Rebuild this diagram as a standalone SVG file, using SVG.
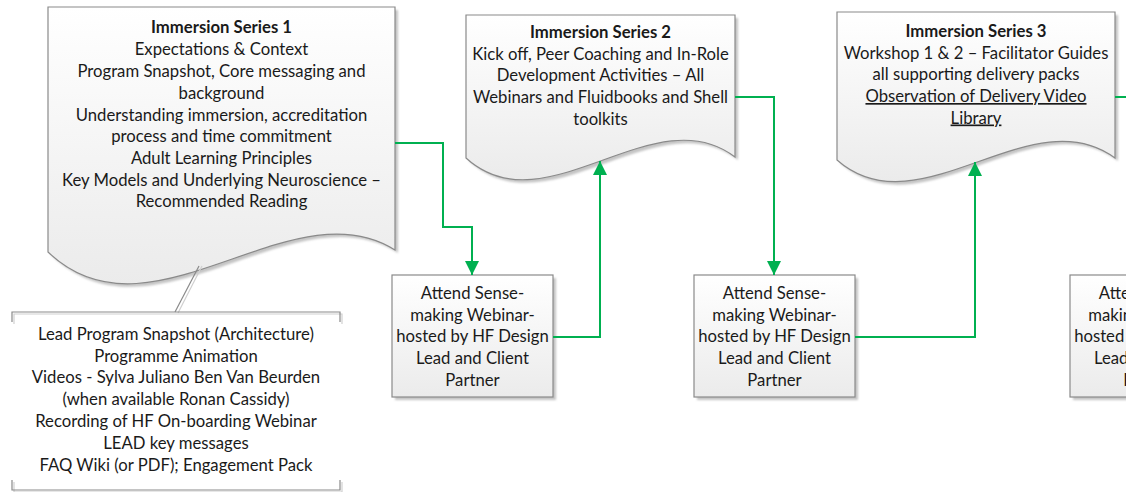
<svg xmlns="http://www.w3.org/2000/svg" width="1126" height="492" viewBox="0 0 1126 492">
  <defs>
    <linearGradient id="fillGrad" x1="0" y1="0" x2="0" y2="1">
      <stop offset="0" stop-color="#ffffff"/>
      <stop offset="1" stop-color="#ebebeb"/>
    </linearGradient>
    <filter id="soft" x="-10%" y="-10%" width="120%" height="120%">
      <feGaussianBlur stdDeviation="1.2"/>
    </filter>
    <marker id="arrow" viewBox="0 0 14 14" refX="14" refY="7" markerWidth="14" markerHeight="14" markerUnits="userSpaceOnUse" orient="auto">
      <path d="M0,0 L14,7 L0,14 Z" fill="#00b050"/>
    </marker>
    <style>
      .shape { fill: url(#fillGrad); stroke: #8a8a8a; stroke-width: 1.2; }
      .shadow { fill: #c4c4c4; stroke: none; filter: url(#soft); }
      .txt { font-family: Lato, "Open Sans", sans-serif; font-size: 16.7px; fill: #1a1a1a; text-anchor: middle; }
      .bold { font-weight: bold; }
      .ul { text-decoration: underline; }
      .conn { fill: none; stroke: #00b050; stroke-width: 2; }
      .callout { fill: none; stroke: #8a8a8a; stroke-width: 1.2; }
      .callout-sh { fill: none; stroke: #d0d0d0; stroke-width: 1.2; }
    </style>
  </defs>

  <!-- Immersion Series 1 document -->
  <g id="series1">
    <path class="shadow" transform="translate(3,3)" d="M48,7 H395 V250 C291,184 150,350 48,252 Z"/>
    <path class="shape" d="M48,7 H395 V250 C291,184 150,350 48,252 Z"/>
    <text class="txt bold" x="221.5" y="33">Immersion Series 1</text>
    <text class="txt" x="221.5" y="55">Expectations &amp; Context</text>
    <text class="txt" x="221.5" y="76.5">Program Snapshot, Core messaging and</text>
    <text class="txt" x="221.5" y="98.5">background</text>
    <text class="txt" x="221.5" y="120.5">Understanding immersion, accreditation</text>
    <text class="txt" x="221.5" y="142">process and time commitment</text>
    <text class="txt" x="221.5" y="163.5">Adult Learning Principles</text>
    <text class="txt" x="221.5" y="185.5">Key Models and Underlying Neuroscience –</text>
    <text class="txt" x="221.5" y="207">Recommended Reading</text>
  </g>

  <!-- Resource list callout attached to series 1 -->
  <g id="resources">
    <path class="callout-sh" d="M202,266 L178,313"/>
    <path class="callout" d="M199,266 L175,312"/>
    <path class="callout-sh" transform="translate(2,2)" d="M12,322 V312 H340 V322 M12,480 V490 H340 V480"/>
    <path class="callout" d="M12,322 V312 H340 V322 M12,480 V490 H340 V480"/>
    <text class="txt" x="176" y="339.5">Lead Program Snapshot (Architecture)</text>
    <text class="txt" x="176" y="361.5">Programme Animation</text>
    <text class="txt" x="176" y="383">Videos - Sylva Juliano Ben Van Beurden</text>
    <text class="txt" x="176" y="405">(when available Ronan Cassidy)</text>
    <text class="txt" x="176" y="427">Recording of HF On-boarding Webinar</text>
    <text class="txt" x="176" y="448.5">LEAD key messages</text>
    <text class="txt" x="176" y="470.5">FAQ Wiki (or PDF); Engagement Pack</text>
  </g>

  <!-- Immersion Series 2 document -->
  <g id="series2">
    <path class="shadow" transform="translate(3,3)" d="M466,15 H735 V157 C654,95 545,230 466,158 Z"/>
    <path class="shape" d="M466,15 H735 V157 C654,95 545,230 466,158 Z"/>
    <text class="txt bold" x="600.5" y="37.5">Immersion Series 2</text>
    <text class="txt" x="600.5" y="59.5">Kick off, Peer Coaching and In-Role</text>
    <text class="txt" x="600.5" y="81">Development Activities – All</text>
    <text class="txt" x="600.5" y="103">Webinars and Fluidbooks and Shell</text>
    <text class="txt" x="600.5" y="124.5">toolkits</text>
  </g>

  <!-- Immersion Series 3 document -->
  <g id="series3">
    <path class="shadow" transform="translate(3,3)" d="M837,12 H1115 V158 C1031,96 919,232 837,160 Z"/>
    <path class="shape" d="M837,12 H1115 V158 C1031,96 919,232 837,160 Z"/>
    <text class="txt bold" x="976" y="36.5">Immersion Series 3</text>
    <text class="txt" x="976" y="58.5">Workshop 1 &amp; 2 – Facilitator Guides</text>
    <text class="txt" x="976" y="80">all supporting delivery packs</text>
    <text class="txt ul" x="976" y="102">Observation of Delivery Video</text>
    <text class="txt ul" x="976" y="123.5">Library</text>
  </g>

  <!-- Sense-making webinar steps -->
  <g id="webinar1">
    <rect class="shadow" x="395" y="278" width="161" height="122"/>
    <rect class="shape" x="392" y="275" width="161" height="122"/>
    <text class="txt" x="472.5" y="298.5">Attend Sense-</text>
    <text class="txt" x="472.5" y="320.5">making Webinar-</text>
    <text class="txt" x="472.5" y="342">hosted by HF Design</text>
    <text class="txt" x="472.5" y="364">Lead and Client</text>
    <text class="txt" x="472.5" y="385.5">Partner</text>
  </g>

  <g id="webinar2">
    <rect class="shadow" x="697" y="278" width="161" height="122"/>
    <rect class="shape" x="694" y="275" width="161" height="122"/>
    <text class="txt" x="774.5" y="298.5">Attend Sense-</text>
    <text class="txt" x="774.5" y="320.5">making Webinar-</text>
    <text class="txt" x="774.5" y="342">hosted by HF Design</text>
    <text class="txt" x="774.5" y="364">Lead and Client</text>
    <text class="txt" x="774.5" y="385.5">Partner</text>
  </g>

  <!-- third step runs past the right edge of the page -->
  <g id="webinar3">
    <rect class="shadow" x="1073" y="278" width="161" height="122"/>
    <rect class="shape" x="1070" y="275" width="161" height="122"/>
    <text class="txt" x="1150.5" y="298.5">Attend Sense-</text>
    <text class="txt" x="1150.5" y="320.5">making Webinar-</text>
    <text class="txt" x="1150.5" y="342">hosted by HF Design</text>
    <text class="txt" x="1150.5" y="364">Lead and Client</text>
    <text class="txt" x="1150.5" y="385.5">Partner</text>
  </g>

  <!-- Flow connectors -->
  <g id="connectors">
    <path class="conn" d="M395,143 H443 V227 H472 V275" marker-end="url(#arrow)"/>
    <path class="conn" d="M553,337 H600 V161" marker-end="url(#arrow)"/>
    <path class="conn" d="M735,97 H774 V275" marker-end="url(#arrow)"/>
    <path class="conn" d="M855,337 H975 V162" marker-end="url(#arrow)"/>
    <path class="conn" d="M1115,97 H1126"/>
  </g>
</svg>
